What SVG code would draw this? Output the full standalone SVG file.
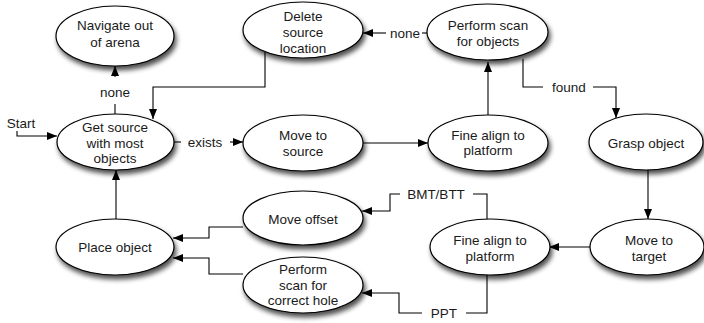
<svg xmlns="http://www.w3.org/2000/svg" width="704" height="323" viewBox="0 0 704 323">
  <defs>
    <filter id="shadow" x="-20%" y="-30%" width="150%" height="180%">
      <feGaussianBlur in="SourceAlpha" stdDeviation="2.5"/>
      <feOffset dx="2" dy="4" result="b"/>
      <feComponentTransfer><feFuncA type="linear" slope="0.7"/></feComponentTransfer>
      <feMerge><feMergeNode/><feMergeNode in="SourceGraphic"/></feMerge>
    </filter>
    <marker id="arrow" viewBox="0 0 10 8" refX="10" refY="4" markerWidth="10" markerHeight="8" markerUnits="userSpaceOnUse" orient="auto">
      <path d="M0,0 L10,4 L0,8 Z" fill="#000"/>
    </marker>
  </defs>
  <style>
    .node ellipse { fill: #fff; stroke: #000; stroke-width: 1.2; filter: url(#shadow); }
    text { font-family: "Liberation Sans", Arial, Helvetica, sans-serif; font-size: 13.5px; fill: #1a1a1a; text-anchor: middle; }
    .edge { fill: none; stroke: #000; stroke-width: 1.1; }
    .arr { marker-end: url(#arrow); }
  </style>
  <rect width="704" height="323" fill="#fff"/>

  <g id="connectors">
    <!-- Start into Get source -->
    <path class="edge arr" d="M17,131 V136 H57"/>
    <!-- Get source -> Navigate (none) -->
    <path class="edge" d="M115,114 V104"/>
    <path class="edge arr" d="M115,77 V66"/>
    <!-- Delete source location -> Get source -->
    <path class="edge arr" d="M265,52 V87 H153 V119"/>
    <!-- Get source -> Move to source (exists) -->
    <path class="edge" d="M174,142 H181"/>
    <path class="edge arr" d="M230,142 H243"/>
    <!-- Move to source -> Fine align -->
    <path class="edge arr" d="M363,143 H428"/>
    <!-- Fine align -> Perform scan -->
    <path class="edge arr" d="M488,115 V62"/>
    <!-- Perform scan -> Delete (none) -->
    <path class="edge" d="M427,33 H422"/>
    <path class="edge arr" d="M386,33 H363"/>
    <!-- Perform scan -> Grasp (found) -->
    <path class="edge" d="M523,59 V87 H543"/>
    <path class="edge arr" d="M593,87 H616 V118"/>
    <!-- Grasp -> Move to target -->
    <path class="edge arr" d="M648,170 V219"/>
    <!-- Move to target -> Fine align lower -->
    <path class="edge arr" d="M590,247 H549"/>
    <!-- Fine align lower -> Move offset (BMT/BTT) -->
    <path class="edge" d="M487,220 V194 H473"/>
    <path class="edge arr" d="M400,194 H390 V211 H362"/>
    <!-- Fine align lower -> Perform scan for correct hole (PPT) -->
    <path class="edge" d="M487,275 V313 H466"/>
    <path class="edge arr" d="M422,313 H399 V293 H362"/>
    <!-- Move offset -> Place object -->
    <path class="edge arr" d="M243,227 H209 V238 H173"/>
    <!-- Perform scan for correct hole -> Place object -->
    <path class="edge arr" d="M243,274 H209 V258 H173"/>
    <!-- Place object -> Get source -->
    <path class="edge arr" d="M116,219 V170"/>

    <text x="21" y="128">Start</text>
    <text x="115" y="97">none</text>
    <text x="205" y="147">exists</text>
    <text x="405" y="38">none</text>
    <text x="569" y="92">found</text>
    <text x="436" y="199">BMT/BTT</text>
    <text x="444" y="318">PPT</text>
  </g>

  <g id="navigate" class="node">
    <ellipse cx="115" cy="36" rx="59" ry="30"/>
    <text x="115" y="30">Navigate out</text>
    <text x="115" y="47">of arena</text>
  </g>
  <g id="get-source" class="node">
    <ellipse cx="115.5" cy="142" rx="58.5" ry="28"/>
    <text x="115" y="132">Get source</text>
    <text x="115" y="148">with most</text>
    <text x="115" y="163">objects</text>
  </g>
  <g id="delete-source" class="node">
    <ellipse cx="303" cy="30" rx="60" ry="28"/>
    <text x="303" y="21">Delete</text>
    <text x="303" y="37">source</text>
    <text x="303" y="53">location</text>
  </g>
  <g id="scan-objects" class="node">
    <ellipse cx="487.5" cy="32" rx="60.5" ry="28"/>
    <text x="488" y="30">Perform scan</text>
    <text x="488" y="46">for objects</text>
  </g>
  <g id="move-to-source" class="node">
    <ellipse cx="303" cy="143" rx="60" ry="28"/>
    <text x="303" y="140">Move to</text>
    <text x="303" y="156">source</text>
  </g>
  <g id="fine-align-source" class="node">
    <ellipse cx="488" cy="143" rx="60" ry="28"/>
    <text x="488" y="140">Fine align to</text>
    <text x="488" y="155">platform</text>
  </g>
  <g id="grasp" class="node">
    <ellipse cx="646" cy="142" rx="57" ry="28"/>
    <text x="646" y="148">Grasp object</text>
  </g>
  <g id="move-to-target" class="node">
    <ellipse cx="647" cy="247" rx="57" ry="28"/>
    <text x="649" y="245">Move to</text>
    <text x="649" y="261">target</text>
  </g>
  <g id="fine-align-target" class="node">
    <ellipse cx="490" cy="247" rx="60" ry="28"/>
    <text x="490" y="245">Fine align to</text>
    <text x="490" y="261">platform</text>
  </g>
  <g id="move-offset" class="node">
    <ellipse cx="303" cy="218" rx="60" ry="27"/>
    <text x="303" y="224">Move offset</text>
  </g>
  <g id="scan-hole" class="node">
    <ellipse cx="303" cy="285" rx="60" ry="28"/>
    <text x="303" y="274">Perform</text>
    <text x="303" y="290">scan for</text>
    <text x="303" y="305">correct hole</text>
  </g>
  <g id="place-object" class="node">
    <ellipse cx="115" cy="247" rx="59" ry="28"/>
    <text x="115" y="252">Place object</text>
  </g>
</svg>
